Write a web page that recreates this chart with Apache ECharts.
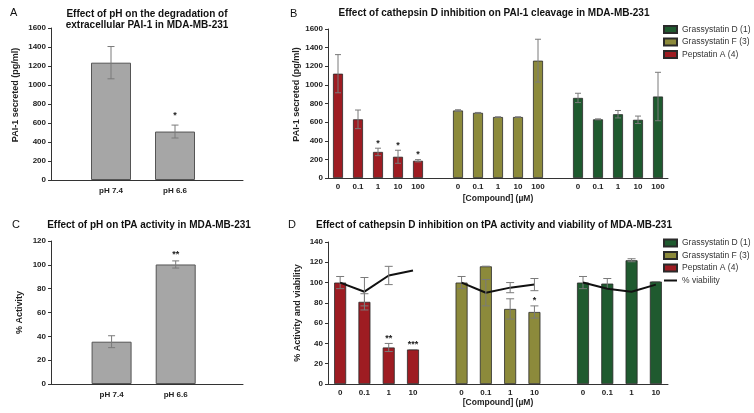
<!DOCTYPE html>
<html><head><meta charset="utf-8">
<script src="https://cdn.jsdelivr.net/npm/echarts@6/dist/echarts.min.js"></script>
<style>html,body{margin:0;padding:0;background:#fff}#c{width:754px;height:413px}</style>
</head><body><div id="c"></div>
<script>
// ---------- data ----------
const phCategories = ['pH 7.4', 'pH 6.6'];
const paiByPH = [1235, 510];
const paiByPHErr = [170, 68];
const paiByPHStars = ['', '*'];
const tpaByPH = [35.5, 100.3];
const tpaByPHErr = [5, 3];
const tpaByPHStars = ['', '**'];

const concB = ['0', '0.1', '1', '10', '100'];
const paiPepstatinA = [1120, 630, 280, 228, 185];
const paiPepstatinAErr = [205, 100, 40, 70, 12];
const paiPepstatinAStars = ['', '', '*', '*', '*'];
const paiGrassF = [725, 700, 655, 655, 1260];
const paiGrassFErr = [8, 4, 0, 0, 230];
const paiGrassFStars = ['', '', '', '', ''];
const paiGrassD = [860, 630, 685, 625, 875];
const paiGrassDErr = [50, 5, 40, 40, 260];
const paiGrassDStars = ['', '', '', '', ''];

const concD = ['0', '0.1', '1', '10'];
const tpaPepstatinA = [100, 81, 36, 34];
const tpaPepstatinAErr = [6, 8, 4, 0];
const tpaPepstatinAStars = ['', '', '**', '***'];
const tpaGrassF = [100, 116, 74, 71];
const tpaGrassFErr = [6, 0, 10, 6];
const tpaGrassFStars = ['', '', '', '*'];
const tpaGrassD = [100, 99, 122, 101];
const tpaGrassDErr = [6, 5, 1.5, 0];
const tpaGrassDStars = ['', '', '', ''];
const viabPepstatinA = [100, 91, 107, 112];
const viabPepstatinAErr = [0, 14, 9, 0];
const viabGrassF = [100, 90, 95, 98];
const viabGrassFErr = [0, 13, 5, 6];
const viabGrassD = [100, 94, 91, 98];
const viabGrassDErr = [0, 0, 0, 0];

const seriesNames = ['Pepstatin A (4)', 'Grassystatin F (3)', 'Grassystatin D (1)'];
const legendOrder = ['Grassystatin D (1)', 'Grassystatin F (3)', 'Pepstatin A (4)'];
const viabilityName = '% viability';

// ---------- style ----------
const FONT = '"Liberation Sans", Arial, Helvetica, sans-serif';
const colors = ['#9e1c22', '#8c8a3b', '#1f5a2f'];
const GRAY = '#a6a6a6';
const AX = '#333';
const ERR = '#7a7a7a';

// ---------- helpers ----------
function buildSlots(concs, nGroups) {
  const cats = [];
  for (let g = 0; g < nGroups; g++) {
    concs.forEach(c => cats.push(g + ':' + c));
    if (g < nGroups - 1) cats.push('gap' + g);
  }
  return cats;
}
function slot(g, i, n) { return g * (n + 1) + i; }

function errRender(capW) {
  return function (params, api) {
    const x = api.value(0);
    const pt = api.coord([x, api.value(2)]);
    const pb = api.coord([x, api.value(1)]);
    const c = capW / 2;
    const st = { stroke: ERR, lineWidth: 1 };
    return { type: 'group', children: [
      { type: 'line', shape: { x1: pt[0], y1: pt[1], x2: pb[0], y2: pb[1] }, style: st },
      { type: 'line', shape: { x1: pt[0] - c, y1: pt[1], x2: pt[0] + c, y2: pt[1] }, style: st },
      { type: 'line', shape: { x1: pb[0] - c, y1: pb[1], x2: pb[0] + c, y2: pb[1] }, style: st }
    ]};
  };
}
function starRender(texts, gap) {
  return function (params, api) {
    const p = api.coord([api.value(0), api.value(1)]);
    return { type: 'text', x: p[0], y: p[1] - gap,
      style: { text: texts[params.dataIndex], align: 'center', verticalAlign: 'bottom',
        font: 'bold 9px ' + FONT, fill: '#222' } };
  };
}

const yAxisBase = (gi, max, interval, name, gap, shiftUp) => ({
  gridIndex: gi, type: 'value', min: 0, max: max, interval: interval,
  name: name, nameLocation: 'middle', nameGap: gap,
  nameTextStyle: { fontFamily: FONT, fontWeight: 'bold', fontSize: 9, color: '#222', padding: [0, 0, 0, shiftUp * 2] },
  axisLine: { show: true, lineStyle: { color: AX, width: 1 } },
  axisTick: { show: true, length: 3, lineStyle: { color: AX } },
  axisLabel: { formatter: v => String(v), fontFamily: FONT, fontWeight: 'bold', fontSize: 8, color: '#222', margin: 5 },
  splitLine: { show: false }
});

// ---------- build ----------
const series = [];
const xAxes = [], yAxes = [];

function phPanel(gi, vals, errs, stars, starGap) {
  series.push({ type: 'bar', xAxisIndex: gi, yAxisIndex: gi, barWidth: 40,
    itemStyle: { color: GRAY, borderColor: '#555', borderWidth: 1 },
    data: vals.map((v, i) => [i + 1, v]), z: 2, silent: true });
  series.push({ type: 'custom', xAxisIndex: gi, yAxisIndex: gi, renderItem: errRender(7), z: 3,
    data: vals.map((v, i) => [i + 1, v - errs[i], v + errs[i]]), silent: true });
  const st = [], stxt = [];
  vals.forEach((v, i) => { if (stars[i]) { st.push([i + 1, v + errs[i]]); stxt.push(stars[i]); } });
  series.push({ type: 'custom', xAxisIndex: gi, yAxisIndex: gi, renderItem: starRender(stxt, starGap), z: 4, data: st, silent: true });
}
function phXAxis(gi, min, max) {
  return { gridIndex: gi, type: 'value', min: min, max: max,
    axisLine: { show: true, onZero: false, lineStyle: { color: AX, width: 1 } },
    axisTick: { show: false }, splitLine: { show: false },
    axisLabel: { customValues: phCategories.map((c, i) => i + 1),
      formatter: v => phCategories[Math.round(v) - 1] || '',
      fontFamily: FONT, fontWeight: 'bold', fontSize: 8, color: '#222', margin: 7 } };
}

function groupPanel(gi, concs, groups, starGap, viab) {
  const n = concs.length, total = groups.length * (n + 1) - 1;
  groups.forEach((grp, g) => {
    const data = new Array(total).fill('-');
    grp.vals.forEach((v, i) => { data[slot(g, i, n)] = v; });
    series.push({ name: seriesNames[g], type: 'bar', xAxisIndex: gi, yAxisIndex: gi,
      barWidth: gi === 1 ? 10 : 12, barGap: '-100%', z: 2,
      itemStyle: { color: colors[g], borderColor: '#2a2a2a', borderWidth: 0.8 }, data: data });
    series.push({ type: 'custom', xAxisIndex: gi, yAxisIndex: gi, renderItem: errRender(gi === 1 ? 6 : 8), z: 3, silent: true,
      data: grp.vals.map((v, i) => [slot(g, i, n), v - grp.err[i], v + grp.err[i]]) });
    const st = [], stxt = [];
    grp.vals.forEach((v, i) => { if (grp.stars[i]) { st.push([slot(g, i, n), v + grp.err[i]]); stxt.push(grp.stars[i]); } });
    series.push({ type: 'custom', xAxisIndex: gi, yAxisIndex: gi, renderItem: starRender(stxt, starGap), z: 4, data: st, silent: true });
  });
  if (viab) {
    const data = new Array(total).fill('-');
    const edata = [];
    viab.forEach((vg, g) => vg.vals.forEach((v, i) => {
      data[slot(g, i, n)] = v;
      if (vg.err[i] > 0) edata.push([slot(g, i, n), v - vg.err[i], v + vg.err[i]]);
    }));
    series.push({ name: viabilityName, type: 'line', xAxisIndex: gi, yAxisIndex: gi, symbol: 'none',
      connectNulls: false, z: 5, lineStyle: { color: '#111', width: 2 }, itemStyle: { color: '#111' }, data: data });
    series.push({ type: 'custom', xAxisIndex: gi, yAxisIndex: gi, renderItem: errRender(8), z: 6, silent: true, data: edata });
  }
  return buildSlots(concs, groups.length);
}
function groupXAxis(gi, cats, labelMargin, nameGap) {
  return { gridIndex: gi, type: 'category', data: cats, boundaryGap: true,
    name: '[Compound] (\u00b5M)', nameLocation: 'middle', nameGap: nameGap,
    nameTextStyle: { fontFamily: FONT, fontWeight: 'bold', fontSize: 8.5, color: '#222' },
    axisLine: { show: true, lineStyle: { color: AX, width: 1 } },
    axisTick: { show: false }, splitLine: { show: false },
    axisLabel: { interval: 0, formatter: v => (v.indexOf(':') >= 0 ? v.split(':')[1] : ''),
      fontFamily: FONT, fontWeight: 'bold', fontSize: 8, color: '#222', margin: labelMargin } };
}

phPanel(0, paiByPH, paiByPHErr, paiByPHStars, 5);
const catsB = groupPanel(1, concB, [
  { vals: paiPepstatinA, err: paiPepstatinAErr, stars: paiPepstatinAStars },
  { vals: paiGrassF, err: paiGrassFErr, stars: paiGrassFStars },
  { vals: paiGrassD, err: paiGrassDErr, stars: paiGrassDStars }], 0.5, null);
phPanel(2, tpaByPH, tpaByPHErr, tpaByPHStars, 2);
const catsD = groupPanel(3, concD, [
  { vals: tpaPepstatinA, err: tpaPepstatinAErr, stars: tpaPepstatinAStars },
  { vals: tpaGrassF, err: tpaGrassFErr, stars: tpaGrassFStars },
  { vals: tpaGrassD, err: tpaGrassDErr, stars: tpaGrassDStars }], 0.5, [
  { vals: viabPepstatinA, err: viabPepstatinAErr },
  { vals: viabGrassF, err: viabGrassFErr },
  { vals: viabGrassD, err: viabGrassDErr }]);

xAxes.push(phXAxis(0, 0.0625, 3.0625));
xAxes.push(groupXAxis(1, catsB, 4.5, 16));
xAxes.push(phXAxis(2, 0.055, 3.05));
xAxes.push(groupXAxis(3, catsD, 5, 14));
yAxes.push(yAxisBase(0, 1600, 200, 'PAI-1 secreted (pg/ml)', 31, 9));
yAxes.push(yAxisBase(1, 1600, 200, 'PAI-1 secreted (pg/ml)', 26.5, 9));
yAxes.push(yAxisBase(2, 120, 20, '% Activity', 26.5, 0));
yAxes.push(yAxisBase(3, 140, 20, '% Activity and viability', 25.5, 0));

const titleStyle = { fontFamily: FONT, fontWeight: 'bold', fontSize: 10, color: '#111', lineHeight: 11.5 };
const letterStyle = { fontFamily: FONT, fontWeight: 'normal', fontSize: 11, color: '#111' };
const legendBase = { orient: 'vertical', left: 663, itemWidth: 13, itemHeight: 7, itemGap: 3.5, padding: 0,
  selectedMode: false, textStyle: { fontFamily: FONT, fontSize: 8.5, color: '#333', padding: [0, 0, 0, 0] } };
const barLegendItems = legendOrder.map(n => ({ name: n, icon: 'rect' }));
const viabLegendItem = { name: viabilityName, itemStyle: { color: 'rgba(0,0,0,0)', borderColor: 'rgba(0,0,0,0)', borderWidth: 0 },
  lineStyle: { color: '#111', width: 2 } };

const option = {
  animation: false,
  backgroundColor: '#fff',
  title: [
    { text: 'A', left: 10, top: 7, textStyle: letterStyle, padding: 0 },
    { text: 'Effect of pH on the degradation of\nextracellular PAI-1 in MDA-MB-231', left: 147, top: 8, textAlign: 'center', padding: 0, textStyle: titleStyle },
    { text: 'B', left: 290, top: 8, textStyle: letterStyle, padding: 0 },
    { text: 'Effect of cathepsin D inhibition on PAI-1 cleavage in MDA-MB-231', left: 494, top: 7, textAlign: 'center', padding: 0, textStyle: titleStyle },
    { text: 'C', left: 12, top: 219, textStyle: letterStyle, padding: 0 },
    { text: 'Effect of pH on tPA activity in MDA-MB-231', left: 149, top: 219, textAlign: 'center', padding: 0, textStyle: titleStyle },
    { text: 'D', left: 288, top: 219, textStyle: letterStyle, padding: 0 },
    { text: 'Effect of cathepsin D inhibition on tPA activity and viability of MDA-MB-231', left: 494, top: 219, textAlign: 'center', padding: 0, textStyle: titleStyle }
  ],
  legend: [
    Object.assign({}, legendBase, { top: 25, data: barLegendItems }),
    Object.assign({}, legendBase, { top: 238.5, data: barLegendItems.concat([viabLegendItem]) })
  ],
  grid: [
    { left: 51, top: 28, width: 192, height: 152, outerBoundsMode: 'none' },
    { left: 328, top: 29, width: 340, height: 149, outerBoundsMode: 'none' },
    { left: 51, top: 241, width: 192, height: 143, outerBoundsMode: 'none' },
    { left: 328, top: 242, width: 340, height: 142, outerBoundsMode: 'none' }
  ],
  xAxis: xAxes,
  yAxis: yAxes,
  series: series
};
const chart = echarts.init(document.getElementById('c'));
chart.setOption(option);
</script>
</body></html>
